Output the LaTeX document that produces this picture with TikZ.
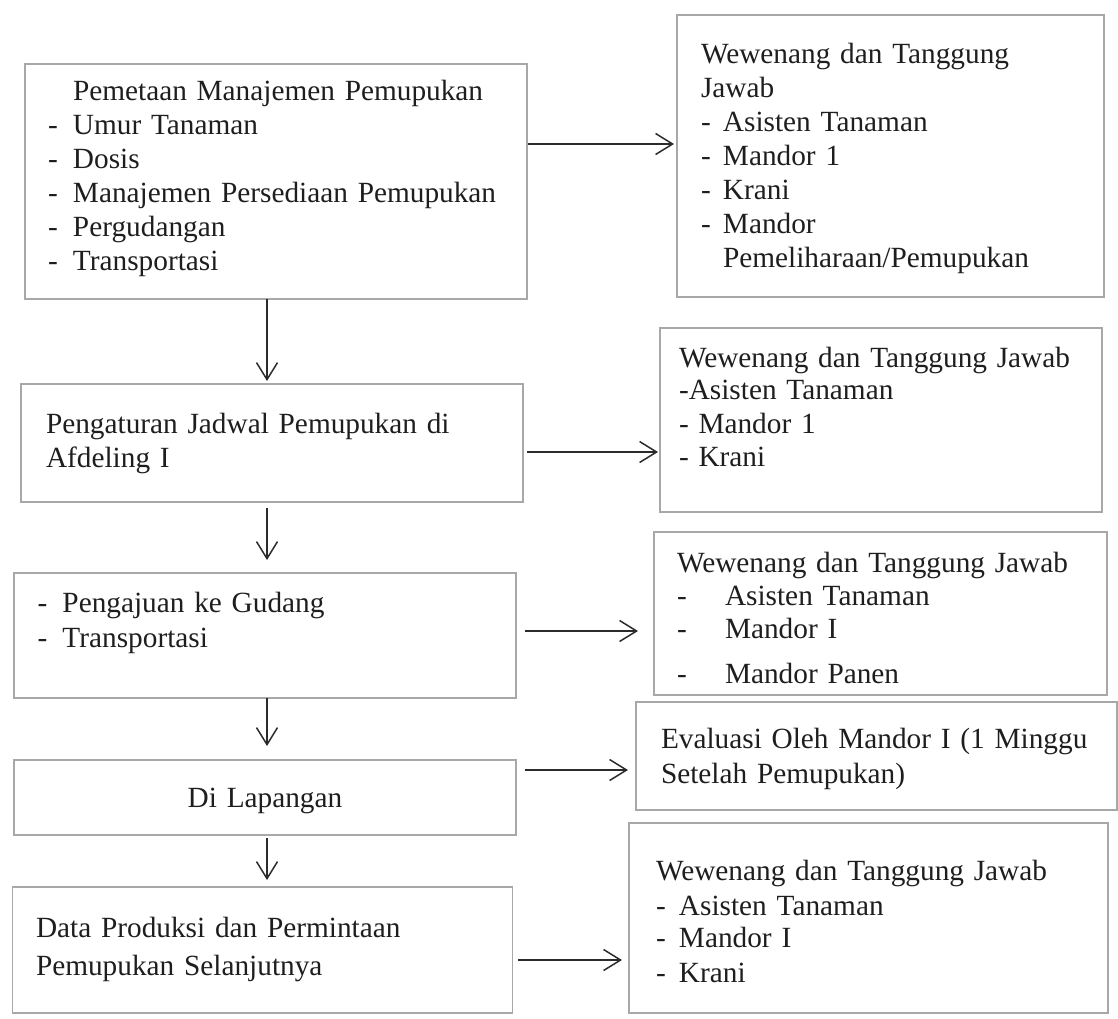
\documentclass[tikz,border=0pt]{standalone}
\usepackage{fontspec}
\setmainfont{Liberation Serif}
\usetikzlibrary{arrows.meta}
\definecolor{bordergray}{HTML}{A8A8A8}
\definecolor{ink}{HTML}{1E1E1E}
\definecolor{arrowink}{HTML}{2B2B2B}
\newcommand\dsh[1]{\makebox[#1][l]{-}}
\tikzset{
  box/.style={draw=bordergray, line width=1.8pt, rectangle, anchor=north west,
    inner ysep=0pt, outer sep=0pt, align=left, text=ink,
    font=\fontsize{29.3}{34}\selectfont},
  geom/.style n args={4}{inner xsep=#1, text width=#2, text height=#3, text depth=#4},
  arr/.style={draw=arrowink, line width=1.5pt, -{Straight Barb[length=17pt,width=21pt]}},
}
\begin{document}
\begin{tikzpicture}[x=1pt,y=-1pt]
\useasboundingbox (0,0) rectangle (1118,1018);

% left column
\node[box, geom={23pt}{456pt}{36pt}{199pt}] (L1) at (25,64)
  {\hspace*{25pt}Pemetaan Manajemen Pemupukan\\
   \dsh{25pt}Umur Tanaman\\
   \dsh{25pt}Dosis\\
   \dsh{25pt}Manajemen Persediaan Pemupukan\\
   \dsh{25pt}Pergudangan\\
   \dsh{25pt}Transportasi};
\node[box, geom={25pt}{452pt}{49pt}{69pt}] (L2) at (21,384)
  {Pengaturan Jadwal Pemupukan di\\ Afdeling I};
\node[box, geom={23.5pt}{455pt}{39pt}{86pt}] (L3) at (14,573)
  {\dsh{25pt}Pengajuan ke Gudang\\[1pt]
   \dsh{25pt}Transportasi};
\node[box, align=center, geom={23pt}{456pt}{47pt}{28pt}] (L4) at (14,760)
  {Di Lapangan};
\node[box, geom={23.5pt}{453pt}{50pt}{76pt}] (L5) at (12.5,887)
  {Data Produksi dan Permintaan\\[4pt]
   Pemupukan Selanjutnya};

% right column
\node[box, geom={24pt}{379pt}{48pt}{234pt}] (R1) at (677,15)
  {Wewenang dan Tanggung\\
   Jawab\\
   \dsh{22pt}Asisten Tanaman\\
   \dsh{22pt}Mandor 1\\
   \dsh{22pt}Krani\\
   \dsh{22pt}Mandor\\
   \hspace*{22pt}Pemeliharaan/Pemupukan};
\node[box, geom={19pt}{404pt}{39pt}{145pt}] (R2) at (660,328)
  {Wewenang dan Tanggung Jawab\\[-2pt]
   -Asisten Tanaman\\
   - Mandor 1\\[-1pt]
   - Krani};
\node[box, geom={23pt}{407pt}{40pt}{123pt}] (R3) at (654,532)
  {Wewenang dan Tanggung Jawab\\[-1pt]
   \dsh{48pt}Asisten Tanaman\\[-1pt]
   \dsh{48pt}Mandor I\\[11pt]
   \dsh{48pt}Mandor Panen};
\node[box, geom={25pt}{431pt}{46pt}{62pt}] (R4) at (636,702)
  {Evaluasi Oleh Mandor I (1 Minggu\\[1pt]
   Setelah Pemupukan)};
\node[box, geom={27pt}{425pt}{57pt}{133pt}] (R5) at (629,823)
  {Wewenang dan Tanggung Jawab\\[1pt]
   \dsh{23pt}Asisten Tanaman\\[-2pt]
   \dsh{23pt}Mandor I\\[1pt]
   \dsh{23pt}Krani};

% vertical connectors
\coordinate (vx) at (267,0);
\draw[arr, shorten >=3pt] (L1.south -| vx) -- (L2.north -| vx);
\draw[arr, shorten <=6pt, shorten >=13pt] (L2.south -| vx) -- (L3.north -| vx);
\draw[arr, shorten >=14pt] (L3.south -| vx) -- (L4.north -| vx);
\draw[arr, shorten <=3pt, shorten >=7pt] (L4.south -| vx) -- (L5.north -| vx);

% horizontal connectors
\coordinate (h1) at (0,144);
\coordinate (h2) at (0,452);
\coordinate (h3) at (0,631);
\coordinate (h4) at (0,770);
\coordinate (h5) at (0,960);
\draw[arr, shorten <=1pt, shorten >=3pt] (L1.east |- h1) -- (R1.west |- h1);
\draw[arr, shorten <=4pt, shorten >=2pt] (L2.east |- h2) -- (R2.west |- h2);
\draw[arr, shorten <=9pt, shorten >=16pt] (L3.east |- h3) -- (R3.west |- h3);
\draw[arr, shorten <=9pt, shorten >=8pt] (L4.east |- h4) -- (R4.west |- h4);
\draw[arr, shorten <=5pt, shorten >=7pt] (L5.east |- h5) -- (R5.west |- h5);
\end{tikzpicture}
\end{document}
